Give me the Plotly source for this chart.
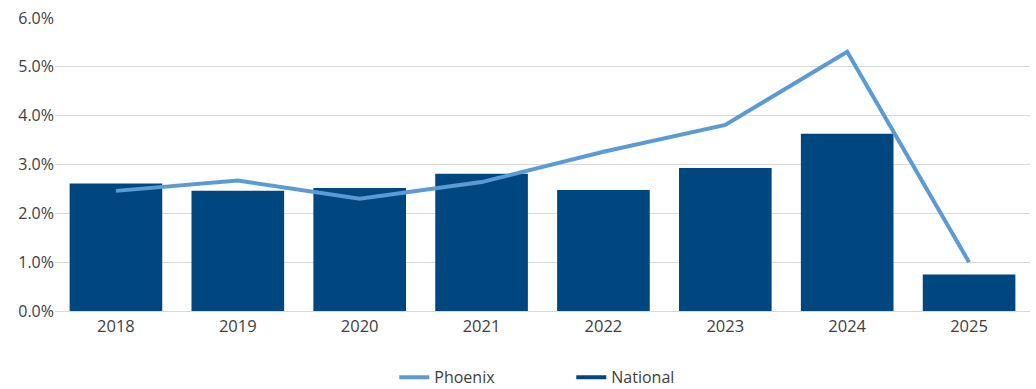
import plotly.graph_objects as go

years = ["2018", "2019", "2020", "2021", "2022", "2023", "2024", "2025"]
national = [2.61, 2.46, 2.52, 2.81, 2.48, 2.93, 3.63, 0.75]
phoenix = [2.46, 2.67, 2.30, 2.64, 3.26, 3.81, 5.31, 1.00]
tick_vals = [0, 1, 2, 3, 4, 5, 6]
tick_text = ["0.0%", "1.0%", "2.0%", "3.0%", "4.0%", "5.0%", "6.0%"]

PHX = "#5B9BD5"
NAT = "#00467F"
font = dict(family="'Open Sans', sans-serif", size=16, color="#404040")

fig = go.Figure()
fig.add_trace(go.Bar(x=years, y=national, name="National", marker_color=NAT,
                     marker_line_width=0, showlegend=False))
fig.add_trace(go.Scatter(x=years, y=phoenix, name="Phoenix", mode="lines",
                         line=dict(color=PHX, width=4)))
# legend entry for National drawn as a line, as in the reference
fig.add_trace(go.Scatter(x=[None], y=[None], name="National", mode="lines",
                         line=dict(color=NAT, width=4)))

fig.update_layout(
    width=1036, height=389,
    margin=dict(l=55, r=6, t=18, b=78, autoexpand=False),
    paper_bgcolor="white", plot_bgcolor="white",
    font=font,
    bargap=0.24,
    showlegend=True,
    legend=dict(orientation="h", x=0.348, xanchor="left",
                yref="container", y=0.03, yanchor="middle",
                font=dict(size=16, color="#404040"),
                entrywidth=132, entrywidthmode="pixels",
                traceorder="normal"),
    xaxis=dict(showgrid=False, showline=True, linecolor="#D9D9D9", linewidth=1,
               ticks="", tickfont=dict(size=16.5, color="#404040")),
    yaxis=dict(range=[0, 6], tickvals=tick_vals, ticktext=tick_text,
               showgrid=True, gridcolor="#D9D9D9", gridwidth=1, zeroline=False,
               ticks="", tickfont=dict(size=16, color="#404040")),
)

fig.write_html("out.html")
